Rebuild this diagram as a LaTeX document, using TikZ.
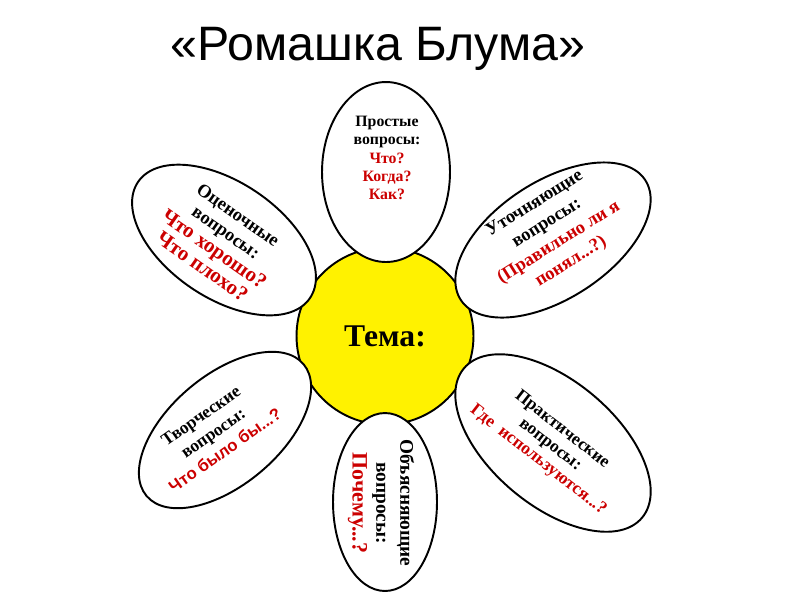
\documentclass[tikz,border=0pt]{standalone}
\usepackage{fontspec}
\setmainfont{Liberation Serif}
\newfontfamily\arialfont{Liberation Sans}
\usepackage{tikz}
\usetikzlibrary{shapes.geometric}
\definecolor{askred}{RGB}{204,0,0}
\newcommand{\redq}[1]{\textcolor{askred}{#1}}

\begin{document}
\begin{tikzpicture}[%
    x=0.02cm,
    y=-0.02cm,
    petal/.style={%
      ellipse,
      draw,
      line width=1.1pt,
      fill=white,
      inner sep=0pt
    },
    ask/.style={%
      align=center,
      inner sep=0pt
    }
  ]
    \useasboundingbox (0,0) rectangle (800,600);
    \node[anchor=base, font=\arialfont\fontsize{27.5}{30}\selectfont] (title) at (378,60) {«Ромашка Блума»};

    \node[circle, draw, line width=1.1pt, fill=yellow, minimum size=3.54cm] (core) at (385,336) {};
    \node[petal, minimum width=2.56cm, minimum height=3.6cm] (simple) at (386,172) {};
    \node[petal, minimum width=2.08cm, minimum height=3.56cm] (explain) at (385,502) {};
    \node[petal, minimum width=4.15cm, minimum height=2.32cm, rotate=-34] (judge) at (224,240) {};
    \node[petal, minimum width=4.4cm, minimum height=2.35cm, rotate=33] (clarify) at (553,240) {};
    \node[petal, minimum width=4.1cm, minimum height=2.2cm, rotate=40] (create) at (225,430) {};
    \node[petal, minimum width=4.65cm, minimum height=2.5cm, rotate=-40] (practice) at (553,443) {};

    \node[font=\bfseries\fontsize{18}{20}\selectfont] (theme) at (core) {Тема:};

    \node[ask, font=\bfseries\fontsize{9}{10.3}\selectfont] (simpletext) at (387,158)
      {Простые\\вопросы:\\\redq{Что?}\\\redq{Когда?}\\\redq{Как?}};
    \node[ask, rotate=-35, font=\bfseries\fontsize{10.5}{12}\selectfont] (judgetext) at (220,241)
      {Оценочные\\вопросы:\\{\fontsize{12}{12}\selectfont\redq{Что хорошо?}}\\{\fontsize{12}{12}\selectfont\redq{Что плохо?}}};
    \node[ask, rotate=32, font=\bfseries\fontsize{10.5}{13}\selectfont] (clarifytext) at (553,233)
      {Уточняющие\\вопросы:\\\redq{(Правильно ли я}\\\redq{понял...?)}};
    \node[ask, rotate=35, font=\bfseries\fontsize{10}{12}\selectfont] (createtext) at (213,433)
      {Творческие\\вопросы:\\{\arialfont\bfseries\fontsize{9.5}{12}\selectfont\redq{Что было бы...?}}};
    \node[ask, rotate=-38, font=\bfseries\fontsize{10}{11}\selectfont] (practicetext) at (550,445)
      {Практические\\вопросы:\\\redq{Где\ \ используются...?}};
    \node[ask, rotate=-90, font=\bfseries\fontsize{11}{13.6}\selectfont] (explaintext) at (381,503)
      {Объясняющие\\вопросы:\\{\fontsize{12.5}{13.6}\selectfont\redq{Почему...?}}};
\end{tikzpicture}
\end{document}
